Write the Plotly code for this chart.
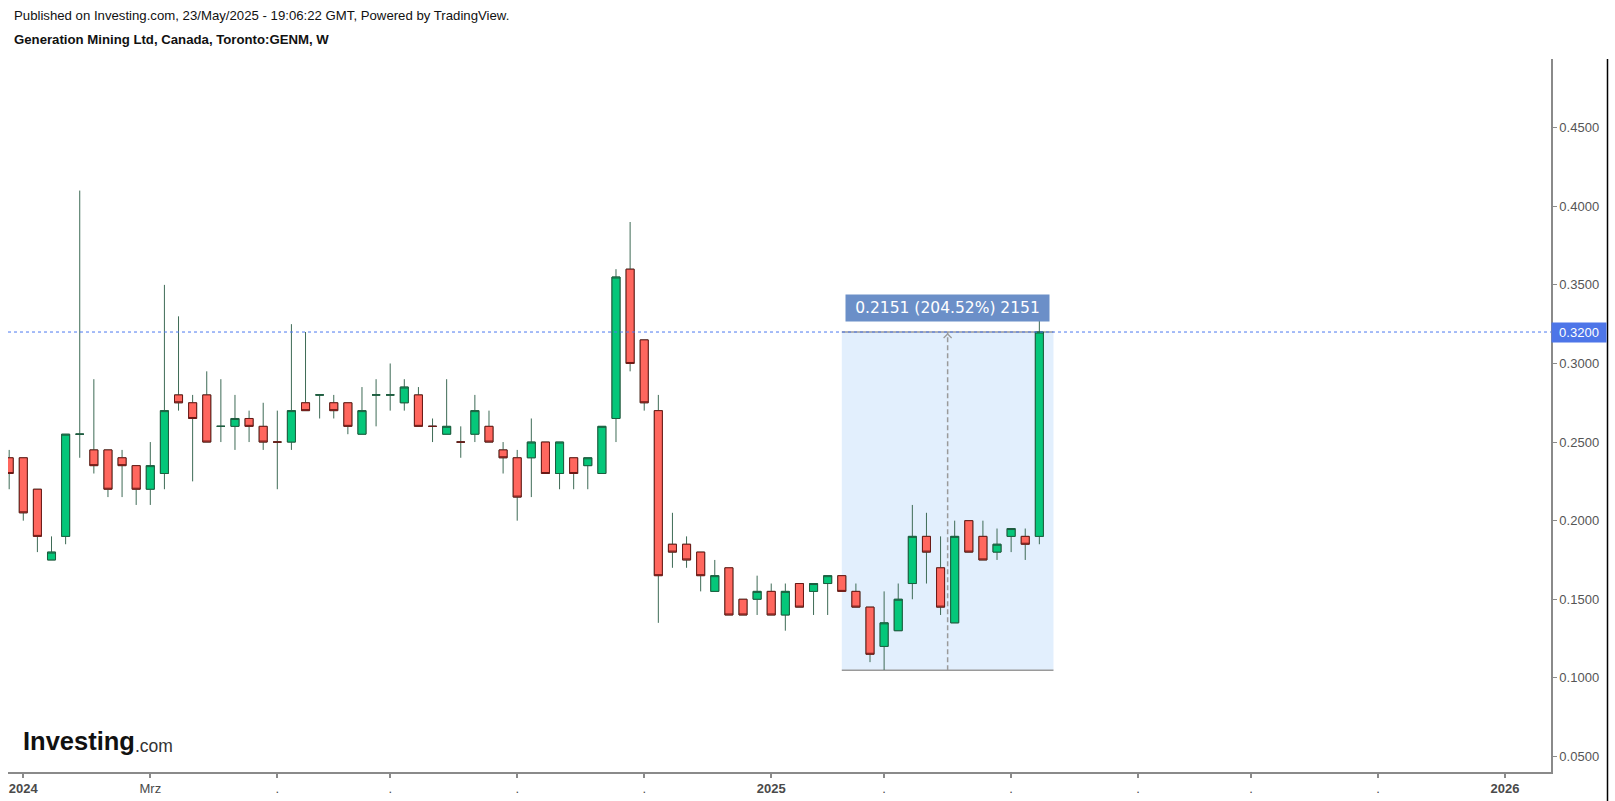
import pandas as pd
import plotly.graph_objects as go

# ---------------- data (weekly candles, Toronto:GENM) ----------------
week_start = "2023-12-25"
n_weeks = 74
dates = pd.date_range(week_start, periods=n_weeks, freq="7D")

opens = [0.24, 0.24, 0.22, 0.175, 0.19, 0.255, 0.245, 0.245, 0.24, 0.235,
         0.22, 0.23, 0.28, 0.275, 0.28, 0.26, 0.26, 0.265, 0.26, 0.25,
         0.25, 0.275, 0.28, 0.275, 0.275, 0.255, 0.28, 0.28, 0.275, 0.28,
         0.26, 0.255, 0.25, 0.255, 0.26, 0.245, 0.24, 0.24, 0.25, 0.23,
         0.24, 0.235, 0.23, 0.265, 0.36, 0.315, 0.27, 0.185, 0.185, 0.18,
         0.155, 0.17, 0.15, 0.15, 0.155, 0.14, 0.16, 0.155, 0.16, 0.165,
         0.155, 0.145, 0.12, 0.13, 0.16, 0.19, 0.17, 0.135, 0.20, 0.19,
         0.18, 0.19, 0.19, 0.19]
highs = [0.245, 0.24, 0.22, 0.19, 0.255, 0.41, 0.29, 0.245, 0.245, 0.235,
         0.25, 0.35, 0.33, 0.28, 0.295, 0.29, 0.28, 0.27, 0.275, 0.27,
         0.325, 0.32, 0.28, 0.28, 0.275, 0.285, 0.29, 0.30, 0.29, 0.285,
         0.265, 0.29, 0.26, 0.28, 0.27, 0.25, 0.245, 0.265, 0.25, 0.25,
         0.24, 0.24, 0.26, 0.36, 0.39, 0.315, 0.28, 0.205, 0.19, 0.18,
         0.175, 0.17, 0.15, 0.165, 0.16, 0.16, 0.16, 0.16, 0.165, 0.165,
         0.16, 0.145, 0.155, 0.16, 0.21, 0.205, 0.19, 0.20, 0.20, 0.20,
         0.195, 0.195, 0.195, 0.34]
lows = [0.22, 0.20, 0.18, 0.175, 0.185, 0.24, 0.23, 0.215, 0.215, 0.21,
        0.21, 0.22, 0.27, 0.225, 0.25, 0.25, 0.245, 0.25, 0.245, 0.22,
        0.245, 0.27, 0.265, 0.265, 0.255, 0.255, 0.26, 0.27, 0.27, 0.26,
        0.25, 0.255, 0.24, 0.25, 0.25, 0.23, 0.20, 0.215, 0.23, 0.22,
        0.22, 0.22, 0.23, 0.25, 0.295, 0.27, 0.135, 0.17, 0.17, 0.155,
        0.155, 0.14, 0.14, 0.14, 0.14, 0.13, 0.145, 0.14, 0.14, 0.155,
        0.145, 0.11, 0.105, 0.13, 0.15, 0.16, 0.14, 0.135, 0.18, 0.175,
        0.175, 0.18, 0.175, 0.185]
closes = [0.23, 0.205, 0.19, 0.18, 0.255, 0.255, 0.235, 0.22, 0.235, 0.22,
          0.235, 0.27, 0.275, 0.265, 0.25, 0.26, 0.265, 0.26, 0.25, 0.25,
          0.27, 0.27, 0.28, 0.27, 0.26, 0.27, 0.28, 0.28, 0.285, 0.26,
          0.26, 0.26, 0.25, 0.27, 0.25, 0.24, 0.215, 0.25, 0.23, 0.25,
          0.23, 0.24, 0.26, 0.355, 0.30, 0.275, 0.165, 0.18, 0.175, 0.165,
          0.165, 0.14, 0.14, 0.155, 0.14, 0.155, 0.145, 0.16, 0.165, 0.155,
          0.145, 0.115, 0.135, 0.15, 0.19, 0.18, 0.145, 0.19, 0.18, 0.175,
          0.185, 0.195, 0.185, 0.32]

last_price = 0.32
measure_start, measure_end = "2025-02-10", "2025-05-26"
measure_low, measure_high = 0.1049, 0.32
measure_text = "0.2151 (204.52%) 2151"

x_tick_dates = ["2024-01-01", "2024-03-04", "2024-05-06", "2024-07-01", "2024-09-02",
                "2024-11-04", "2025-01-06", "2025-03-03", "2025-05-05", "2025-07-07",
                "2025-09-01", "2025-11-03", "2026-01-05"]
x_tick_text = ["<b>2024</b>", "Mrz", ".", ".", ".", ".", "<b>2025</b>",
               ".", ".", ".", ".", ".", "<b>2026</b>"]
y_tick_vals = [0.05, 0.10, 0.15, 0.20, 0.25, 0.30, 0.35, 0.40, 0.45]
y_tick_text = ["%.4f" % v for v in y_tick_vals]

header1 = "Published on Investing.com, 23/May/2025 - 19:06:22 GMT, Powered by TradingView."
header2 = "Generation Mining Ltd, Canada, Toronto:GENM, W"

# ---------------- styling ----------------
W, H = 1615, 801
ML, MR, MT, MB = 8, 64, 59, 29
PW, PH = W - ML - MR, H - MT - MB

def px(x):
    return (x - ML) / PW

def py(y):
    return (H - MB - y) / PH

GREEN_FILL, GREEN_LINE = "#05C77A", "#1D5E3F"
RED_FILL, RED_LINE = "#FF675E", "#6B1815"
WICK = "#3E6B56"
AXIS = "#8a8a8a"
FONT = "Liberation Sans, Arial, sans-serif"

body_hi = [max(o, c) for o, c in zip(opens, closes)]
body_lo = [min(o, c) for o, c in zip(opens, closes)]

fig = go.Figure()
# wicks
fig.add_trace(go.Candlestick(
    x=dates, open=opens, high=highs, low=lows, close=closes,
    increasing=dict(line=dict(color=WICK, width=1), fillcolor="rgba(0,0,0,0)"),
    decreasing=dict(line=dict(color=WICK, width=1), fillcolor="rgba(0,0,0,0)"),
    whiskerwidth=0, hoverinfo="skip", showlegend=False))
# bodies
fig.add_trace(go.Candlestick(
    x=dates, open=opens, high=body_hi, low=body_lo, close=closes,
    increasing=dict(line=dict(color=GREEN_LINE, width=1), fillcolor=GREEN_FILL),
    decreasing=dict(line=dict(color=RED_LINE, width=1), fillcolor=RED_FILL),
    whiskerwidth=0, showlegend=False))

shapes = []
# measurement box
shapes.append(dict(type="rect", xref="x", yref="y", x0=measure_start, x1=measure_end,
                   y0=measure_low, y1=measure_high, fillcolor="#E2EFFD",
                   line=dict(width=0), layer="below"))
for yv in (measure_low, measure_high):
    shapes.append(dict(type="line", xref="x", yref="y", x0=measure_start, x1=measure_end,
                       y0=yv, y1=yv, line=dict(color="#9a9a9a", width=1.5), layer="below"))
mid = pd.Timestamp(measure_start) + (pd.Timestamp(measure_end) - pd.Timestamp(measure_start)) / 2
shapes.append(dict(type="line", xref="x", yref="y", x0=mid, x1=mid,
                   y0=measure_low, y1=measure_high,
                   line=dict(color="#9a9a9a", width=1.5, dash="5px,3px"), layer="below"))
for sx in (-4, 4):
    shapes.append(dict(type="line", xref="x", yref="y", xsizemode="pixel", ysizemode="pixel",
                       xanchor=mid, yanchor=measure_high, x0=sx, x1=0, y0=-6, y1=-2,
                       line=dict(color="#9a9a9a", width=1.2)))
# last price dotted line
shapes.append(dict(type="line", xref="paper", yref="y", x0=0, x1=1, y0=last_price, y1=last_price,
                   line=dict(color="#4C78F0", width=1, dash="dot")))
# right frame line
shapes.append(dict(type="line", xref="paper", yref="paper", x0=px(1607.5), x1=px(1607.5),
                   y0=1, y1=py(H), line=dict(color="black", width=1.5)))

annotations = [
    dict(xref="paper", yref="paper", x=px(12), y=py(16), xanchor="left", yanchor="middle",
         text=header1, showarrow=False, font=dict(family=FONT, size=13.2, color="#111")),
    dict(xref="paper", yref="paper", x=px(12), y=py(40), xanchor="left", yanchor="middle",
         text="<b>" + header2 + "</b>", showarrow=False, font=dict(family=FONT, size=13.2, color="#111")),
    dict(xref="paper", yref="paper", x=px(21), y=py(741), xanchor="left", yanchor="middle",
         text="<b>Investing</b>", showarrow=False, font=dict(family=FONT, size=25.5, color="#111")),
    dict(xref="paper", yref="paper", x=px(133), y=py(746), xanchor="left", yanchor="middle",
         text=".com", showarrow=False, font=dict(family=FONT, size=17.5, color="#333")),
    dict(xref="x", yref="y", x=mid, y=measure_high, yanchor="bottom", yshift=10,
         text=measure_text, showarrow=False, bgcolor="#6B8FC8", width=203, height=26,
         borderpad=0, font=dict(family="DejaVu Sans, Verdana, sans-serif", size=15.5, color="white")),
    dict(xref="paper", yref="y", x=1, y=last_price, xanchor="left", yanchor="middle",
         text="0.3200", showarrow=False, bgcolor="#4D75E8", width=54, height=19, borderpad=0,
         font=dict(family=FONT, size=13, color="white")),
]

fig.update_layout(
    width=W, height=H,
    margin=dict(l=ML, r=MR, t=MT, b=MB, autoexpand=False),
    paper_bgcolor="white", plot_bgcolor="white",
    boxgap=0.43, boxgroupgap=0,
    showlegend=False,
    shapes=shapes, annotations=annotations,
    xaxis=dict(type="date", range=["2023-12-24 10:00", "2026-01-27 19:00"],
               rangeslider=dict(visible=False), showgrid=False, zeroline=False,
               automargin=False,
               showline=True, linecolor=AXIS, linewidth=1.5,
               ticks="outside", ticklen=4, tickcolor=AXIS, tickwidth=1.5,
               tickmode="array", tickvals=x_tick_dates, ticktext=x_tick_text,
               tickfont=dict(family=FONT, size=13, color="#4a4a4a")),
    yaxis=dict(side="right", range=[0.0401, 0.4937], showgrid=False, zeroline=False,
               automargin=False,
               showline=True, linecolor=AXIS, linewidth=1.5,
               ticks="outside", ticklen=4, tickcolor=AXIS,
               tickmode="array", tickvals=y_tick_vals, ticktext=y_tick_text,
               tickfont=dict(family=FONT, size=13, color="#555")),
)

fig.write_html("out.html", config={"displayModeBar": False},
               post_script="document.body.style.margin='0';document.body.style.overflow='hidden';")
